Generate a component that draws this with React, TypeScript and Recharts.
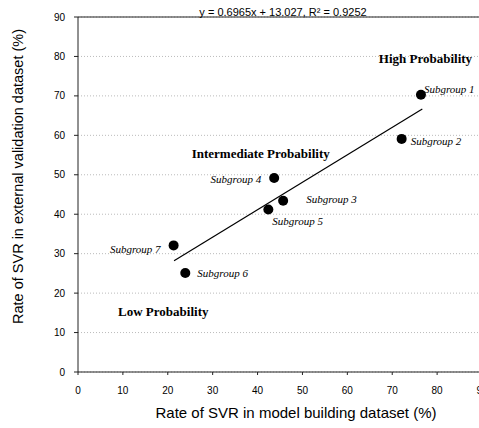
import {
  ScatterChart,
  Scatter,
  XAxis,
  YAxis,
  CartesianGrid,
  ReferenceLine,
  LabelList,
} from 'recharts'

// subgroups: model building rate (x) vs external validation rate (y)
const SUBGROUPS = ['Subgroup 1', 'Subgroup 2', 'Subgroup 3', 'Subgroup 4', 'Subgroup 5', 'Subgroup 6', 'Subgroup 7']
const MODEL_RATE = [76.4, 72.1, 45.7, 43.7, 42.4, 23.9, 21.3]
const VALIDATION_RATE = [70.3, 59.1, 43.4, 49.2, 41.2, 25.1, 32.1]

// fitted trend line end points
const TREND_X = [21.4, 76.7]
const TREND_Y = [28.2, 66.7]

const REGION_NAMES = ['High Probability', 'Intermediate Probability', 'Low Probability']
const REGION_X = [77.4, 40.7, 19.0]
const REGION_Y = [79.6, 55.5, 15.4]

const TICKS = [0, 10, 20, 30, 40, 50, 60, 70, 80, 90]
const EQUATION = 'y = 0.6965x + 13.027, R² = 0.9252'

// label placement relative to the dot (pixels)
const LABEL_OFFSET: Record<string, { dx: number; dy: number; anchor: 'start' | 'end' }> = {
  'Subgroup 1': { dx: 3, dy: -6, anchor: 'start' },
  'Subgroup 2': { dx: 9, dy: 2.5, anchor: 'start' },
  'Subgroup 3': { dx: 23, dy: -2, anchor: 'start' },
  'Subgroup 4': { dx: -13, dy: 1, anchor: 'end' },
  'Subgroup 5': { dx: 4, dy: 12, anchor: 'start' },
  'Subgroup 6': { dx: 12, dy: 0, anchor: 'start' },
  'Subgroup 7': { dx: -13, dy: 4, anchor: 'end' },
}

const points = SUBGROUPS.map((name, i) => ({ name, x: MODEL_RATE[i], y: VALIDATION_RATE[i] }))
const trend = TREND_X.map((x, i) => ({ x, y: TREND_Y[i] }))
const regions = REGION_NAMES.map((name, i) => ({ name, x: REGION_X[i], y: REGION_Y[i] }))

const SANS = 'Arial, "Liberation Sans", sans-serif'
const SERIF = '"Times New Roman", "Liberation Serif", serif'
const TICK = { fill: '#000', fontSize: 10, fontFamily: SANS }

// eslint-disable-next-line @typescript-eslint/no-explicit-any
function SubgroupLabel({ x, y, width, height, value }: any) {
  const o = LABEL_OFFSET[value]
  const cx = x + width / 2
  const cy = y + height / 2
  return (
    <text
      x={cx + o.dx}
      y={cy + o.dy}
      textAnchor={o.anchor}
      dominantBaseline="central"
      fontFamily={SERIF}
      fontStyle="italic"
      fontSize={11}
      fill="#000"
    >
      {value}
    </text>
  )
}

// eslint-disable-next-line @typescript-eslint/no-explicit-any
function RegionLabel({ x, y, width, height, value }: any) {
  return (
    <text
      x={x + width / 2}
      y={y + height / 2}
      textAnchor="middle"
      dominantBaseline="central"
      fontFamily={SERIF}
      fontWeight="bold"
      fontSize={13}
      fill="#000"
    >
      {value}
    </text>
  )
}

// eslint-disable-next-line @typescript-eslint/no-explicit-any
function Dot({ cx, cy }: any) {
  return <circle cx={cx} cy={cy} r={5} fill="#000" />
}

export default function App() {
  return (
    <div style={{ position: 'absolute', left: 0, top: 0, background: '#fff' }}>
      <ScatterChart width={479} height={428} margin={{ top: 17, right: -3, left: 18, bottom: 26 }}>
        <CartesianGrid horizontal vertical={false} stroke="#bbb" strokeDasharray="1 2" />
        <XAxis
          type="number"
          dataKey="x"
          domain={[0, 90]}
          ticks={TICKS}
          interval={0}
          tick={TICK}
          tickSize={3}
          tickMargin={12}
          height={30}
          axisLine={{ stroke: '#222' }}
          tickLine={{ stroke: '#222' }}
          label={{
            value: 'Rate of SVR in model building dataset (%)',
            position: 'insideBottom',
            offset: -16,
            dx: 16,
            style: { fill: '#000', fontSize: 15, fontFamily: SANS },
          }}
        />
        <YAxis
          type="number"
          dataKey="y"
          domain={[0, 90]}
          ticks={TICKS}
          interval={0}
          tick={TICK}
          tickSize={4}
          tickMargin={9}
          width={60}
          axisLine={{ stroke: '#222' }}
          tickLine={{ stroke: '#222' }}
          label={{
            value: 'Rate of SVR in external validation dataset (%)',
            angle: -90,
            position: 'insideLeft',
            offset: 0,
            dy: -18,
            style: { fill: '#000', fontSize: 14.5, fontFamily: SANS, textAnchor: 'middle' },
          }}
        />
        <ReferenceLine
          y={90}
          stroke="#222"
          label={{ value: EQUATION, position: 'top', offset: 1, dx: 3, style: { fill: '#000', fontSize: 11, fontFamily: SANS } }}
        />
        <Scatter data={trend} line={{ stroke: '#000', strokeWidth: 1.2 }} shape={() => null} isAnimationActive={false} />
        <Scatter data={points} shape={<Dot />} isAnimationActive={false}>
          <LabelList dataKey="name" content={<SubgroupLabel />} />
        </Scatter>
        <Scatter data={regions} shape={() => null} isAnimationActive={false}>
          <LabelList dataKey="name" content={<RegionLabel />} />
        </Scatter>
      </ScatterChart>
    </div>
  )
}
